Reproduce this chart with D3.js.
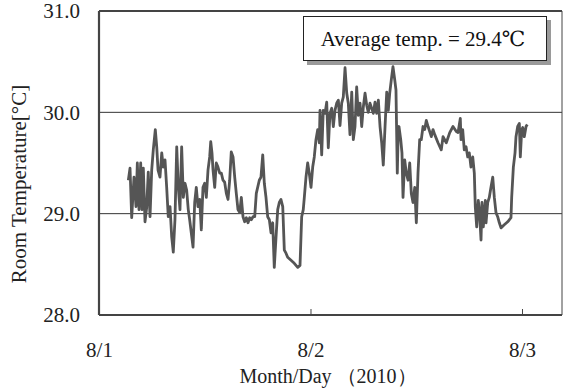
<!DOCTYPE html>
<html><head><meta charset="utf-8">
<script src="https://cdn.jsdelivr.net/npm/d3@7"></script>
<style>
html,body{margin:0;padding:0;background:#fff;}
svg{display:block;}
svg text{font-family:"Liberation Serif","DejaVu Serif",serif !important;}
</style></head>
<body><svg id="c" width="563" height="392"></svg>
<script>
// hours since 8/1 00:00
const hours = [3.33,3.52,3.71,3.97,4.20,4.35,4.54,4.73,4.88,5.03,5.22,5.41,5.59,5.79,5.98,6.16,6.39,6.55,6.70,6.92,7.12,7.30,7.49,7.68,7.86,8.06,8.25,8.43,8.62,8.82,9.00,9.19,9.38,9.57,9.76,9.95,10.13,10.29,10.67,10.86,11.04,11.23,11.43,11.61,11.80,11.99,12.18,12.37,12.56,12.68,12.82,12.94,13.13,13.31,13.50,13.70,13.88,14.07,14.26,14.45,14.64,14.83,15.01,15.21,15.40,15.58,15.77,15.97,16.15,16.34,16.53,16.72,16.91,17.10,17.28,17.48,17.67,17.85,18.19,18.38,18.58,18.76,18.95,19.14,19.33,19.52,19.71,19.89,20.09,20.28,20.46,20.65,20.85,21.03,21.22,21.41,21.79,22.16,22.55,22.81,23.00,23.18,23.30,23.49,23.68,23.86,24.06,24.25,24.43,24.62,24.82,25.00,
25.08,25.27,25.45,25.65,25.84,26.02,26.21,26.41,26.59,26.78,26.97,27.16,27.35,27.54,27.72,27.92,28.11,28.29,28.48,28.68,28.86,29.05,29.24,29.43,29.62,29.81,29.99,30.19,30.38,30.56,30.75,31.13,31.32,31.51,31.70,31.89,32.08,32.26,32.46,32.65,32.83,
32.99,33.17,33.36,33.56,33.70,33.85,33.96,34.04,34.24,34.38,34.50,34.69,34.87,35.07,35.26,35.44,35.63,35.83,36.01,36.20,36.39,36.57,36.77,36.96,37.14,37.34,37.53,37.71,37.90,38.10,38.47,38.84,39.04,39.41,39.80,40.17,40.55,
40.74,41.00,41.08,41.27,41.45,41.65,41.84,42.02,42.21,42.41,42.59,42.70,42.86,43.04,43.16,43.35,43.46,43.61,43.84,43.92,44.11,44.29,44.48,44.68,44.86,45.05,45.24,45.43,45.62,45.99,46.38,46.75,46.83,47.02,47.21,47.32,47.51,47.70,47.81,47.97,48.08,48.26,48.46,48.60];
const temps = [29.33,29.45,28.96,29.36,29.07,29.50,29.04,29.50,29.04,29.45,28.92,29.06,29.41,28.97,29.43,29.63,29.83,29.66,29.43,29.36,29.60,29.46,29.53,29.26,28.97,29.07,28.77,28.62,28.94,29.66,29.26,29.04,29.66,29.16,29.30,29.23,29.04,28.94,28.67,29.11,29.26,29.07,29.14,28.84,29.26,29.30,29.16,29.43,29.56,29.71,29.60,29.43,29.26,29.50,29.46,29.40,29.40,29.33,29.31,29.20,29.14,29.33,29.61,29.56,29.36,29.20,29.04,29.01,29.16,28.97,28.92,28.96,28.91,28.96,28.94,28.97,28.97,29.20,29.33,29.36,29.58,29.30,29.16,28.97,28.94,28.81,28.91,28.47,28.77,29.04,29.11,29.14,29.07,28.64,28.61,28.57,28.54,28.51,28.47,28.49,28.97,29.04,29.16,29.36,29.50,29.40,29.26,29.46,29.56,29.73,29.83,29.70,
30.02,29.58,30.02,29.99,30.10,29.65,29.99,30.04,29.86,30.02,30.09,30.12,29.87,30.09,30.15,30.44,30.19,30.09,29.78,30.20,29.73,29.86,30.25,29.97,30.09,29.86,30.05,30.19,30.07,30.00,30.09,29.99,30.10,29.99,30.12,29.86,29.70,29.48,29.86,30.20,30.02,
30.19,30.32,30.45,30.32,30.22,29.40,29.83,29.86,29.73,29.60,29.16,29.53,29.40,29.33,29.50,29.20,29.11,29.26,28.91,29.40,29.73,29.73,29.86,29.83,29.92,29.86,29.81,29.76,29.83,29.78,29.70,29.63,29.76,29.70,29.80,29.86,29.81,
29.80,29.94,29.73,29.83,29.63,29.66,29.56,29.60,29.46,29.56,29.40,29.07,28.87,29.13,29.04,28.74,29.11,28.87,29.13,28.91,29.11,29.16,29.26,29.36,29.16,29.01,28.97,28.91,28.86,28.89,28.92,28.96,29.16,29.46,29.60,29.76,29.86,29.89,29.56,29.83,29.85,29.76,29.86,29.88];

const xTickHours = [0, 24, 48];
const xTickLabels = ["8/1", "8/2", "8/3"];
const yTicks = [28, 29, 30, 31];
const gridValues = [29, 30];
const avgLabel = "Average temp. = 29.4\u2103";
const xTitle = "Month/Day \uff082010\uff09";
const yTitle = "Room Temperature[\u00b0C]";

const data = hours.map((h, i) => ({h, t: temps[i]}));
const svg = d3.select("#c");
const L = 99, R = 562, T = 11, B = 315;
const x = d3.scaleLinear().domain([0, 52.54]).range([L, R]);
const y = d3.scaleLinear().domain([28, 31]).range([B, T]);
const axisCol = "#444";

// grid
svg.append("g").selectAll("line").data(gridValues).join("line")
  .attr("x1", L).attr("x2", R).attr("y1", d => y(d)).attr("y2", d => y(d))
  .attr("stroke", "#333").attr("stroke-width", 1);

// y axis
const ya = svg.append("g").attr("transform", `translate(${L},0)`)
  .call(d3.axisLeft(y).tickValues(yTicks).tickFormat(d3.format(".1f")).tickSize(0).tickPadding(19));
ya.select(".domain").remove();
ya.selectAll("text").attr("font-size", 21).attr("fill", "#222");

// x axis
const xa = svg.append("g").attr("transform", `translate(0,${B})`)
  .call(d3.axisBottom(x).tickValues(xTickHours).tickFormat((d, i) => xTickLabels[i]).tickSizeInner(-6).tickSizeOuter(0).tickPadding(27));
xa.select(".domain").remove();
xa.selectAll("line").attr("stroke", axisCol).attr("stroke-width", 1);
xa.selectAll("text").attr("font-size", 21).attr("fill", "#222");

// frame
const fr = svg.append("g").attr("stroke", axisCol).attr("fill", "none");
fr.append("line").attr("x1", L).attr("x2", L).attr("y1", T).attr("y2", B).attr("stroke-width", 2.2);
fr.append("line").attr("x1", L).attr("x2", R).attr("y1", B).attr("y2", B).attr("stroke-width", 2.2);
fr.append("line").attr("x1", L).attr("x2", R).attr("y1", T).attr("y2", T).attr("stroke-width", 2.2);
fr.append("line").attr("x1", R).attr("x2", R).attr("y1", T).attr("y2", B).attr("stroke-width", 1);

// series
svg.append("path").datum(data)
  .attr("d", d3.line().x(d => x(d.h)).y(d => y(d.t)))
  .attr("fill", "none").attr("stroke", "#555").attr("stroke-width", 2.8).attr("stroke-linejoin", "round");

// legend box
svg.append("rect").attr("x", 307).attr("y", 20).attr("width", 244).attr("height", 45).attr("fill", "#9a9a9a");
svg.append("rect").attr("x", 303.5).attr("y", 16.5).attr("width", 243).attr("height", 44).attr("fill", "#fff").attr("stroke", "#222").attr("stroke-width", 1);
svg.append("text").attr("x", 423).attr("y", 46).attr("text-anchor", "middle")
  .attr("font-size", 21).attr("fill", "#111").text(avgLabel);

// titles
svg.append("text").attr("x", 328).attr("y", 383).attr("text-anchor", "middle")
  .attr("font-size", 20).attr("fill", "#222").text(xTitle);
svg.append("text").attr("transform", "translate(26,184) rotate(-90)").attr("text-anchor", "middle")
  .attr("font-size", 21).attr("fill", "#222").text(yTitle);
</script></body></html>
